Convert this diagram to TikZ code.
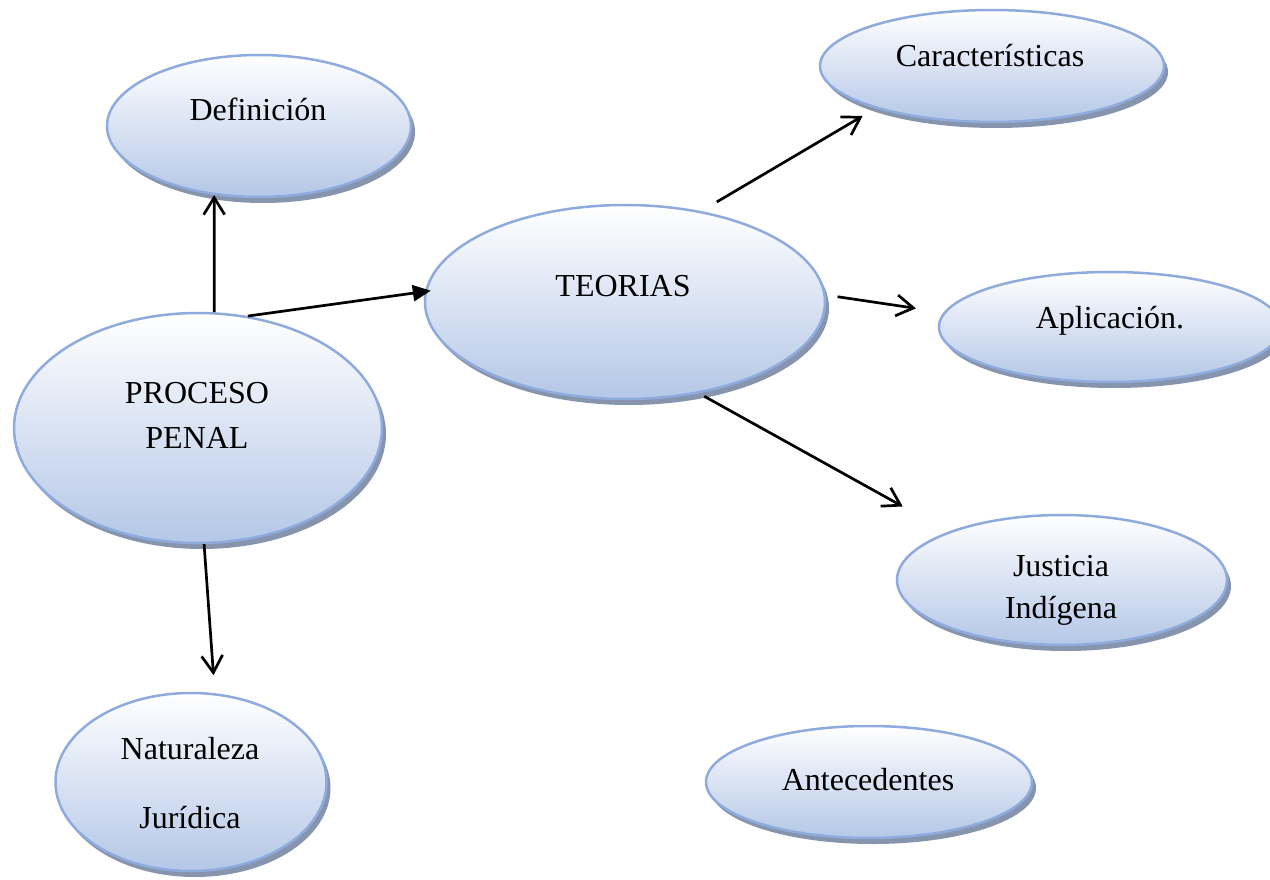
\documentclass[tikz,border=0pt]{standalone}
\usepackage{fontspec}
\setmainfont{Liberation Serif}
\usetikzlibrary{shapes.geometric,shadows,arrows.meta}
\definecolor{ringblue}{RGB}{143,170,220}
\definecolor{fillblue}{RGB}{180,199,231}
\definecolor{shadowblue}{RGB}{135,148,173}
\begin{document}
\begin{tikzpicture}[x=1pt,y=-1pt,
  bubble/.style={ellipse, draw=ringblue, line width=2.5pt, top color=white,
    bottom color=fillblue, inner sep=0pt,
    drop shadow={shadow xshift=4pt, shadow yshift=-6pt, fill=shadowblue, opacity=1}},
  lbl/.style={anchor=base, inner sep=0pt, font=\fontsize{32}{38}\selectfont},
  link/.style={line width=2.7pt, -{Straight Barb[length=17pt,width=21pt]}},
  solidlink/.style={line width=2.7pt, -{Triangle[length=18pt,width=16pt]}}]
\useasboundingbox (0,0) rectangle (1270,880);

% concept bubbles
\node[bubble, minimum width=304pt, minimum height=142pt] (def) at (259,126) {};
\node[bubble, minimum width=344pt, minimum height=112pt] (car) at (992,66) {};
\node[bubble, minimum width=400pt, minimum height=194pt] (teo) at (625,302) {};
\node[bubble, minimum width=342pt, minimum height=110pt] (apl) at (1110,327) {};
\node[bubble, minimum width=368pt, minimum height=230pt] (proc) at (198,428) {};
\node[bubble, minimum width=330pt, minimum height=130pt] (jus) at (1062,580) {};
\node[bubble, minimum width=271pt, minimum height=178pt] (nat) at (191,782) {};
\node[bubble, minimum width=326pt, minimum height=112pt] (ant) at (869,782) {};

% labels
\node[lbl] (deft) at (258,121) {Definición};
\node[lbl] (cart) at (990,67) {Características};
\node[lbl] (teot) at (623,296) {TEORIAS};
\node[lbl] (aplt) at (1110,328) {Aplicación.};
\node[lbl] (proct1) at (197,403) {PROCESO};
\node[lbl] (proct2) at (197,448) {PENAL};
\node[lbl] (just1) at (1061,576) {Justicia};
\node[lbl] (just2) at (1061,618) {Indígena};
\node[lbl] (natt1) at (190,759) {Naturaleza};
\node[lbl] (natt2) at (190,828) {Jurídica};
\node[lbl] (antt) at (868,790) {Antecedentes};

% connectors
\draw[link] (proc.82) -- (def.237);
\draw[solidlink, shorten >=-6pt] (proc.66) -- (teo.177.6);
\draw[link, shorten <=18pt, shorten >=15pt] (teo.50.5) -- (car.200.4);
\draw[link, shorten <=12pt, shorten >=28pt] (teo.2.3) -- (apl.175.4);
\draw[link, shorten <=6pt, shorten >=52pt] (teo.309.7) -- (jus.157.3);
\draw[link, shorten >=18pt] (proc.273) -- (nat.75.6);
\end{tikzpicture}
\end{document}
